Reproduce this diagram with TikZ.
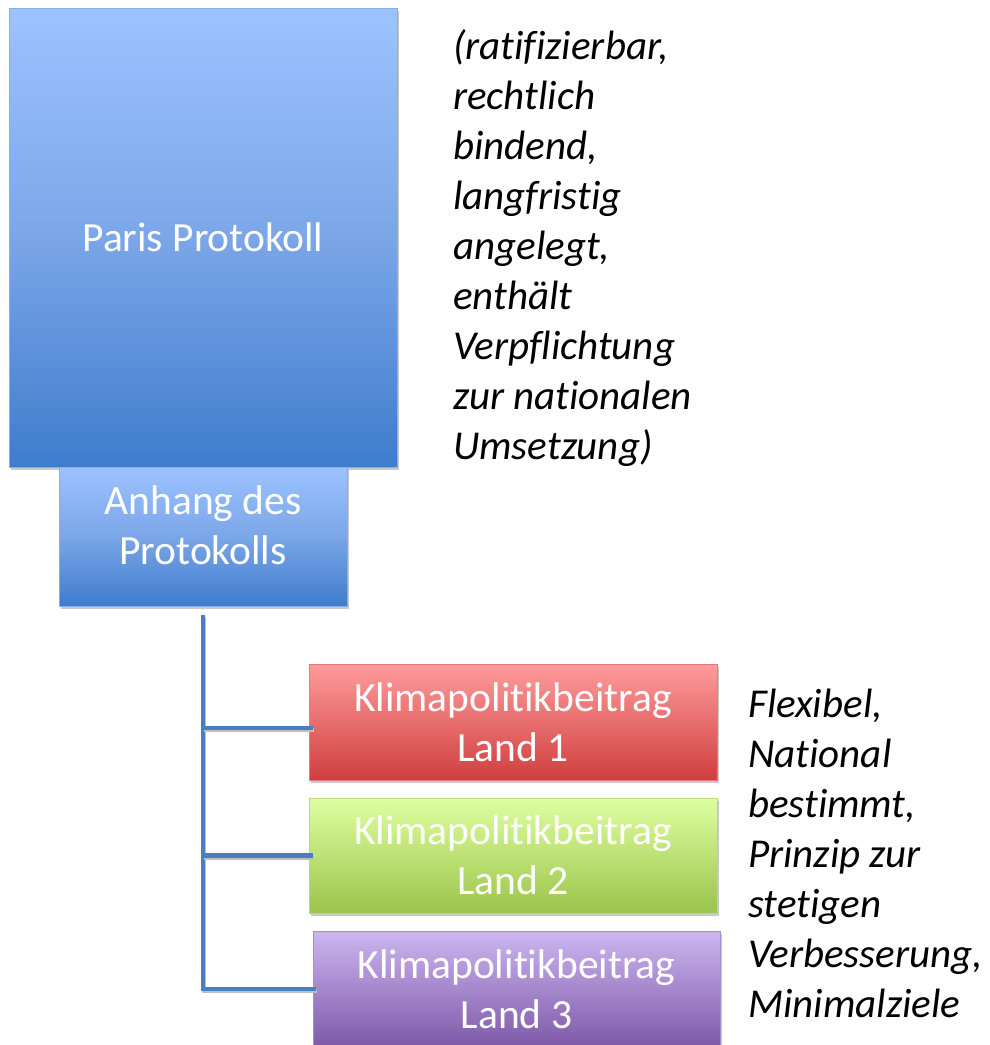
\documentclass[tikz,border=0pt]{standalone}
\usepackage{fontspec}
\setmainfont[Ligatures=NoCommon]{Carlito}
\usetikzlibrary{shadows}
\definecolor{blueTop}{HTML}{9DC3FF}
\definecolor{blueMid}{HTML}{7BA6E8}
\definecolor{blueBot}{HTML}{3E7CCD}
\definecolor{blueEdge}{HTML}{86AEE8}
\definecolor{redTop}{HTML}{FF9C9C}
\definecolor{redBot}{HTML}{D03E3E}
\definecolor{redEdge}{HTML}{E27B7B}
\definecolor{greenTop}{HTML}{DEFFA0}
\definecolor{greenBot}{HTML}{9BC44A}
\definecolor{greenEdge}{HTML}{B9DB78}
\definecolor{purpleTop}{HTML}{CCB6F0}
\definecolor{purpleBot}{HTML}{7E59A8}
\definecolor{purpleEdge}{HTML}{A68CD0}
\definecolor{connBlue}{HTML}{4A7EC2}
\begin{document}
\begin{tikzpicture}[x=1pt,y=-1pt,
  box/.style={rectangle, inner sep=0pt, line width=0.8pt, font=\fontsize{41.5}{50}\selectfont, text=white, align=center,
    drop shadow={shadow xshift=2pt, shadow yshift=-3pt, opacity=0.35, fill=black!60}},
  bluebox/.style={box, draw=blueEdge, top color=blueTop, bottom color=blueBot, middle color=blueMid},
  redbox/.style={box, draw=redEdge, top color=redTop, bottom color=redBot},
  greenbox/.style={box, draw=greenEdge, top color=greenTop, bottom color=greenBot},
  purplebox/.style={box, draw=purpleEdge, top color=purpleTop, bottom color=purpleBot},
  boxtext/.style={inner sep=0pt, font=\fontsize{41.5}{50}\selectfont, text=white, align=center},
  note/.style={inner sep=0pt, anchor=north west, align=left, font=\fontsize{41}{50}\selectfont\itshape, text=black},
  conn/.style={draw=connBlue, line width=4.5pt,
    preaction={draw=black!25, line width=4pt, transform canvas={xshift=1pt, yshift=-2pt}}}
]
\useasboundingbox (0,0) rectangle (989,1045);
\fill[white] (0,0) rectangle (989,1045);

% boxes
\node[bluebox, minimum width=388pt, minimum height=459pt] (paris) at (203,237.5) {Paris Protokoll};
\node[bluebox, minimum width=288pt, minimum height=139pt] (anhang) at (203,536.5) {};
\node[boxtext] (anhangtext) at ([yshift=11pt]anhang.center) {Anhang des\\Protokolls};

\node[redbox, minimum width=408pt, minimum height=116pt] (land1) at (513,722) {Klimapolitikbeitrag\\Land 1};
\node[greenbox, minimum width=408pt, minimum height=115pt] (land2) at (513,855.5) {Klimapolitikbeitrag\\Land 2};
\node[purplebox, minimum width=407pt, minimum height=116pt] (land3) at (516.5,989) {Klimapolitikbeitrag\\Land 3};

% connectors
\coordinate (trunk) at ([yshift=-9pt]anhang.south);
\draw[conn] (trunk) |- ([xshift=3pt]land3.west);
\draw[conn] (trunk |- land1.west) ++(0,6) -- ([xshift=4pt,yshift=-6pt]land1.west);
\draw[conn] (trunk |- land2.west) -- ([xshift=4pt]land2.west);

% notes
\node[note] (note1) at (453,29) {(ratifizierbar,\\rechtlich\\bindend,\\langfristig\\angelegt,\\enthält\\Verpflichtung\\zur nationalen\\Umsetzung)};
\node[note] (note2) at (748,689) {Flexibel,\\National\\bestimmt,\\Prinzip zur\\stetigen\\Verbesserung,\\Minimalziele};
\end{tikzpicture}
\end{document}
